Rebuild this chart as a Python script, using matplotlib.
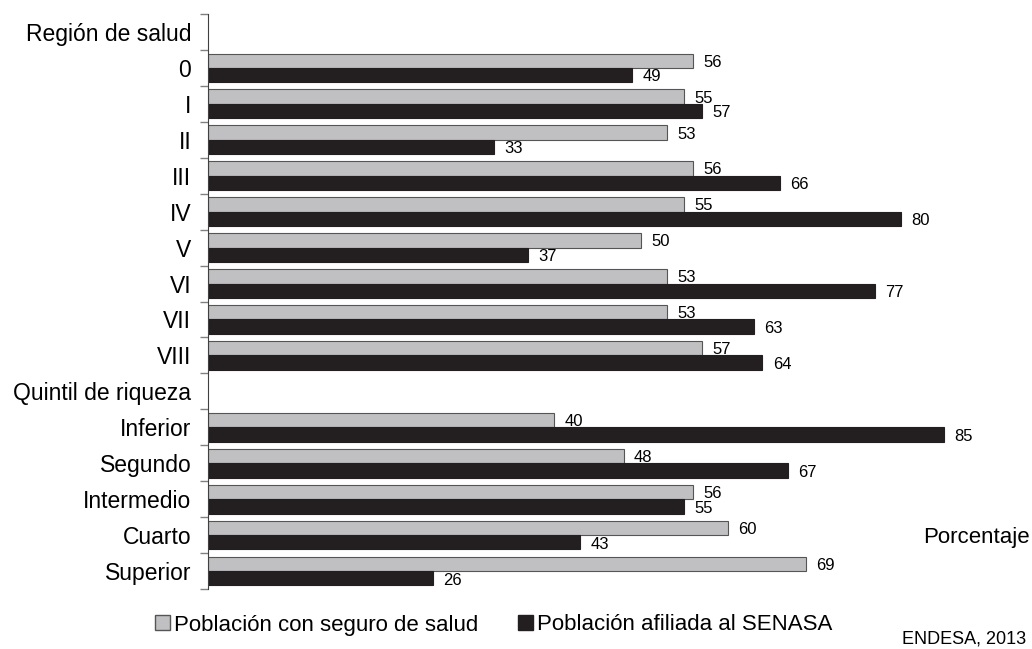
import numpy as np
import matplotlib
matplotlib.use("Agg")
import matplotlib.pyplot as plt
from matplotlib.patches import Patch

plt.rcParams['font.family'] = ['Liberation Sans', 'DejaVu Sans']

# rows from top to bottom; None marks a header row without bars
categories = ['Región de salud', '0', 'I', 'II', 'III', 'IV', 'V', 'VI', 'VII', 'VIII',
              'Quintil de riqueza', 'Inferior', 'Segundo', 'Intermedio', 'Cuarto', 'Superior']
seguro = [None, 56, 55, 53, 56, 55, 50, 53, 53, 57, None, 40, 48, 56, 60, 69]
senasa = [None, 49, 57, 33, 66, 80, 37, 77, 63, 64, None, 85, 67, 55, 43, 26]
series_names = ['Población con seguro de salud', 'Población afiliada al SENASA']

gray = '#c0c0c3'
black = '#231f20'

fig = plt.figure(figsize=(10.32, 6.49), dpi=100)
ax = fig.add_axes([208 / 1032, 1 - 589 / 649, 1 - 208 / 1032, (589 - 14) / 649])

n = len(categories)
y = np.arange(n)
h = 0.4
for i in range(n):
    if seguro[i] is None:
        continue
    ax.barh(y[i] - h / 2, seguro[i], height=h, color=gray, edgecolor='#555555', linewidth=0.8)
    ax.barh(y[i] + h / 2, senasa[i], height=h, color=black, edgecolor=black, linewidth=0.8)
    ax.text(seguro[i] + 1.2, y[i] - h / 2 + 0.04, str(seguro[i]), va='center', ha='left', fontsize=12)
    ax.text(senasa[i] + 1.2, y[i] + h / 2 + 0.05, str(senasa[i]), va='center', ha='left', fontsize=12)

ax.set_ylim(n - 0.5, -0.5)
ax.set_xlim(0, (1032 - 208) / 8.66)
ax.set_yticks(y)
ax.set_yticklabels(categories, fontsize=16.5)
ax.set_yticks(np.arange(n + 1) - 0.5, minor=True)
ax.tick_params(axis='y', which='major', length=0, pad=12)
ax.tick_params(axis='y', which='minor', length=6, color='#808080', width=1)
ax.set_xticks([])
for s in ['top', 'right', 'bottom']:
    ax.spines[s].set_visible(False)
ax.spines['left'].set_color('#404040')

handles = [Patch(facecolor=gray, edgecolor='#555555'), Patch(facecolor=black, edgecolor=black)]
fig.legend(handles, series_names, loc='center', bbox_to_anchor=(494 / 1032, 1 - 625 / 649),
           ncol=2, frameon=False, fontsize=16, handlelength=0.65, handleheight=0.65,
           handletextpad=0.2, columnspacing=1.8, borderpad=0)

fig.text(1030 / 1032, 1 - 537 / 649, 'Porcentaje', ha='right', va='center', fontsize=16)
fig.text(1026 / 1032, 1 - 639 / 649, 'ENDESA, 2013', ha='right', va='center', fontsize=13)

fig.savefig('out.png', dpi=100)
